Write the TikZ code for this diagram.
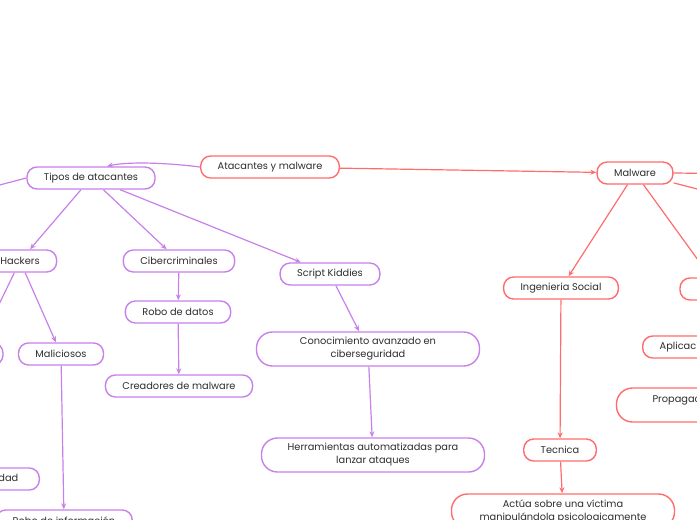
\documentclass[tikz,border=0pt]{standalone}
\usepackage{fontspec}
\setmainfont{Poppins}
\usepackage{tikz}
\usetikzlibrary{arrows.meta}
\usepackage{xcolor}

\definecolor{lila}{RGB}{200,128,234}
\definecolor{rojo}{RGB}{255,108,108}
\definecolor{tinta}{RGB}{45,45,45}

\begin{document}
\begin{tikzpicture}[x=1pt, y=-1pt, >={Stealth[length=6pt,width=5pt]},
    caja/.style={draw, fill=white, rounded corners=10pt, line width=1.4pt, minimum height=22pt, inner xsep=17pt, inner ysep=0pt, text=tinta, font=\fontsize{9.8}{13}\selectfont},
    morada/.style={caja, draw=lila},
    roja/.style={caja, draw=rojo},
    doble/.style={minimum width=223pt, minimum height=34pt, align=center, rounded corners=16pt},
    flecha/.style={->, line width=1.2pt}]
    \useasboundingbox (0,0) rectangle (697,520);
    \clip (0,0) rectangle (697,520);

    % centre
    \node[roja] (atac) at (270,167) {Atacantes y malware};

    % attackers side
    \node[morada] (tipos) at (91,178) {Tipos de atacantes};
    \node[morada] (hack) at (20,261) {Hackers};
    \node[morada] (ciber) at (179,261) {Cibercriminales};
    \node[morada] (script) at (330,274) {Script Kiddies};
    \node[morada, minimum width=56pt] (eticos) at (-25,354) {};
    \node[morada] (malic) at (61,354) {Maliciosos};
    \node[morada, anchor=east, inner xsep=21pt] (segur) at (40,479) {Seguridad};
    \node[morada] (roboinf) at (64,521) {Robo de información};
    \node[morada] (robo) at (178,312) {Robo de datos};
    \node[morada] (crea) at (179,386) {Creadores de malware};
    \node[morada, doble] (conoc) at (368,349) {Conocimiento avanzado en\\ciberseguridad};
    \node[morada, doble] (herram) at (373,455) {Herramientas automatizadas para\\lanzar ataques};
    \coordinate (izq) at (-50,198);

    % malware side
    \node[roja] (malw) at (635,173) {Malware};
    \node[roja] (ingsoc) at (561,288) {Ingenieria Social};
    \node[roja] (tecnica) at (560,450) {Tecnica};
    \node[roja, doble] (actua) at (563,511) {Actúa sobre una víctima\\manipulándola psicologicamente};
    \node[roja, minimum width=78pt] (otro) at (719,289) {};
    \node[roja, anchor=west] (aplic) at (642,347) {Aplicaciones};
    \node[roja, doble] (propag) at (728,405) {Propagación a través de redes\\informáticas};
    \coordinate (der) at (760,174);
    \coordinate (derb) at (791,213);

    % centre to both branches
    \draw[flecha, rojo] (atac) -- (malw);
    \draw[flecha, lila] (atac.west) .. controls (160,162) and (125,162) .. ([xshift=16pt]tipos.north);

    % types of attackers
    \draw[flecha, lila] (tipos.west) -- (izq);
    \draw[flecha, lila] (tipos) -- (hack);
    \draw[flecha, lila] (tipos) -- (ciber);
    \draw[flecha, lila] (tipos) -- (script);

    % hackers
    \draw[flecha, lila] (hack) -- (eticos);
    \draw[flecha, lila] (hack) -- (malic);
    \draw[flecha, lila] (malic) -- (roboinf);

    % cybercriminals
    \draw[flecha, lila] (ciber) -- (robo);
    \draw[flecha, lila] (robo) -- (crea);

    % script kiddies
    \draw[flecha, lila] (script) -- (conoc);
    \draw[flecha, lila] (conoc) -- (herram);

    % malware
    \draw[flecha, rojo] (malw.east) -- (der);
    \draw[flecha, rojo] (malw) -- (derb);
    \draw[flecha, rojo] (malw) -- (ingsoc);
    \draw[flecha, rojo] (malw) -- (otro);
    \draw[flecha, rojo] (ingsoc) -- (tecnica);
    \draw[flecha, rojo] (tecnica) -- (actua);
\end{tikzpicture}
\end{document}
